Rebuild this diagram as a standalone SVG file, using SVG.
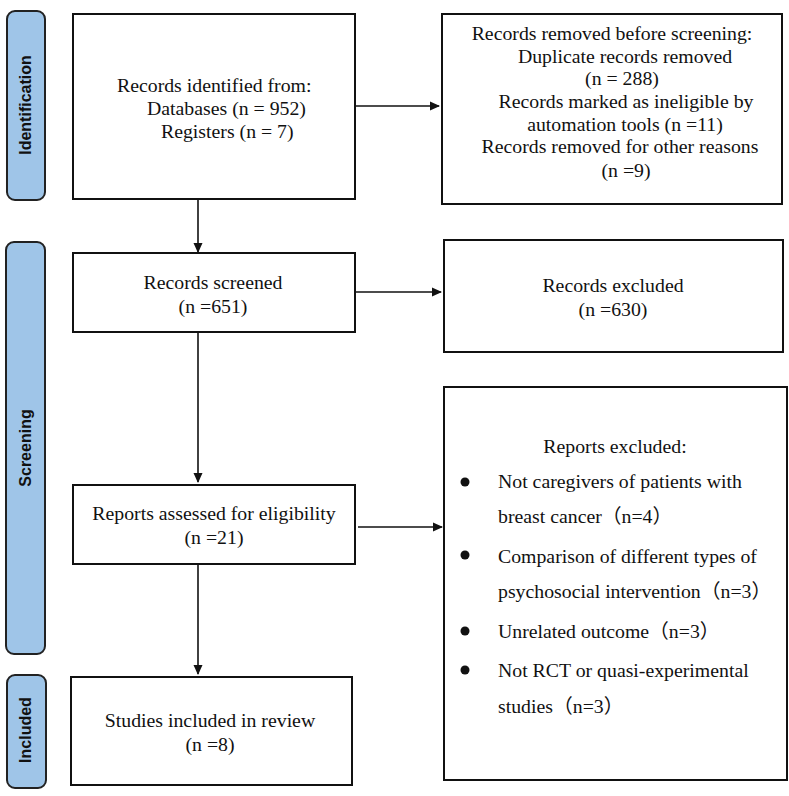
<svg xmlns="http://www.w3.org/2000/svg" width="789" height="796" viewBox="0 0 789 796">
<style>
.box{fill:#fff;stroke:#111;stroke-width:2}
.side{fill:#9fc5e8;stroke:#222;stroke-width:2}
.t{font-size:19.8px;fill:#111}
.c{text-anchor:middle}
.st{font-family:"Liberation Sans",Arial,sans-serif;font-size:16px;font-weight:bold;fill:#111;text-anchor:middle}
.con{stroke:#111;stroke-width:1.6;fill:none}
</style>
<defs>
<marker id="ah" markerWidth="10" markerHeight="10" refX="9" refY="5" orient="auto" markerUnits="userSpaceOnUse">
<path d="M0,0.5 L10,5 L0,9.5 Z" fill="#111"/>
</marker>
</defs>
<rect width="789" height="796" fill="#fff"/>
<g id="phase-identification">
<rect class="side" x="7" y="11" width="38" height="189" rx="8"/>
<text class="st" transform="translate(31,105) rotate(-90)">Identification</text>
</g>
<g id="phase-screening">
<rect class="side" x="6" y="242" width="39" height="412" rx="8"/>
<text class="st" transform="translate(31,448) rotate(-90)">Screening</text>
</g>
<g id="phase-included">
<rect class="side" x="7" y="675" width="39" height="113" rx="8"/>
<text class="st" transform="translate(31,730) rotate(-90)">Included</text>
</g>
<g id="connectors">
<line class="con" x1="355" y1="106" x2="439" y2="106" marker-end="url(#ah)"/>
<line class="con" x1="198" y1="199" x2="198" y2="252" marker-end="url(#ah)"/>
<line class="con" x1="356" y1="292" x2="441" y2="292" marker-end="url(#ah)"/>
<line class="con" x1="198" y1="332" x2="198" y2="482" marker-end="url(#ah)"/>
<line class="con" x1="358" y1="527" x2="442" y2="527" marker-end="url(#ah)"/>
<line class="con" x1="198" y1="564" x2="198" y2="674" marker-end="url(#ah)"/>
</g>
<g font-family="Liberation Serif, Tinos, Times New Roman, serif">
<g id="records-identified">
<rect class="box" x="73" y="14" width="282" height="185"/>
<text class="t" x="117" y="92">Records identified from:</text>
<text class="t" x="147" y="115">Databases (n = 952)</text>
<text class="t" x="161" y="138">Registers (n = 7)</text>
</g>
<g id="records-removed">
<rect class="box" x="442" y="14" width="340" height="190"/>
<text class="t c" x="612" y="40">Records removed before screening:</text>
<text class="t c" x="625" y="63">Duplicate records removed</text>
<text class="t c" x="622" y="85">(n = 288)</text>
<text class="t c" x="626" y="108">Records marked as ineligible by</text>
<text class="t c" x="625" y="131">automation tools (n =11)</text>
<text class="t c" x="620" y="153">Records removed for other reasons</text>
<text class="t c" x="626" y="177">(n =9)</text>
</g>
<g id="records-screened">
<rect class="box" x="73" y="253" width="282" height="79"/>
<text class="t c" x="213" y="289">Records screened</text>
<text class="t c" x="213" y="313">(n =651)</text>
</g>
<g id="records-excluded">
<rect class="box" x="444" y="240" width="339" height="112"/>
<text class="t c" x="613" y="292">Records excluded</text>
<text class="t c" x="613" y="316">(n =630)</text>
</g>
<g id="reports-assessed">
<rect class="box" x="73" y="485" width="282" height="79"/>
<text class="t c" x="214" y="520">Reports assessed for eligibility</text>
<text class="t c" x="214" y="544">(n =21)</text>
</g>
<g id="reports-excluded">
<rect class="box" x="444" y="387" width="343" height="393"/>
<text class="t c" x="615" y="453">Reports excluded:</text>
<circle cx="465" cy="482" r="4.5" fill="#111"/>
<circle cx="465" cy="555" r="4.5" fill="#111"/>
<circle cx="465" cy="631" r="4.5" fill="#111"/>
<circle cx="465" cy="670" r="4.5" fill="#111"/>
<text class="t" x="498" y="488">Not caregivers of patients with</text>
<text class="t" x="498" y="523">breast cancer<tspan font-family="Noto Sans CJK SC, sans-serif">（</tspan>n=4<tspan font-family="Noto Sans CJK SC, sans-serif">）</tspan></text>
<text class="t" x="498" y="563">Comparison of different types of</text>
<text class="t" x="498" y="598">psychosocial intervention<tspan font-family="Noto Sans CJK SC, sans-serif">（</tspan>n=3<tspan font-family="Noto Sans CJK SC, sans-serif">）</tspan></text>
<text class="t" x="498" y="638">Unrelated outcome<tspan font-family="Noto Sans CJK SC, sans-serif">（</tspan>n=3<tspan font-family="Noto Sans CJK SC, sans-serif">）</tspan></text>
<text class="t" x="498" y="677">Not RCT or quasi-experimental</text>
<text class="t" x="498" y="713">studies<tspan font-family="Noto Sans CJK SC, sans-serif">（</tspan>n=3<tspan font-family="Noto Sans CJK SC, sans-serif">）</tspan></text>
</g>
<g id="studies-included">
<rect class="box" x="71" y="677" width="281" height="108"/>
<text class="t c" x="210" y="727">Studies included in review</text>
<text class="t c" x="210" y="751">(n =8)</text>
</g>
</g>
</svg>
